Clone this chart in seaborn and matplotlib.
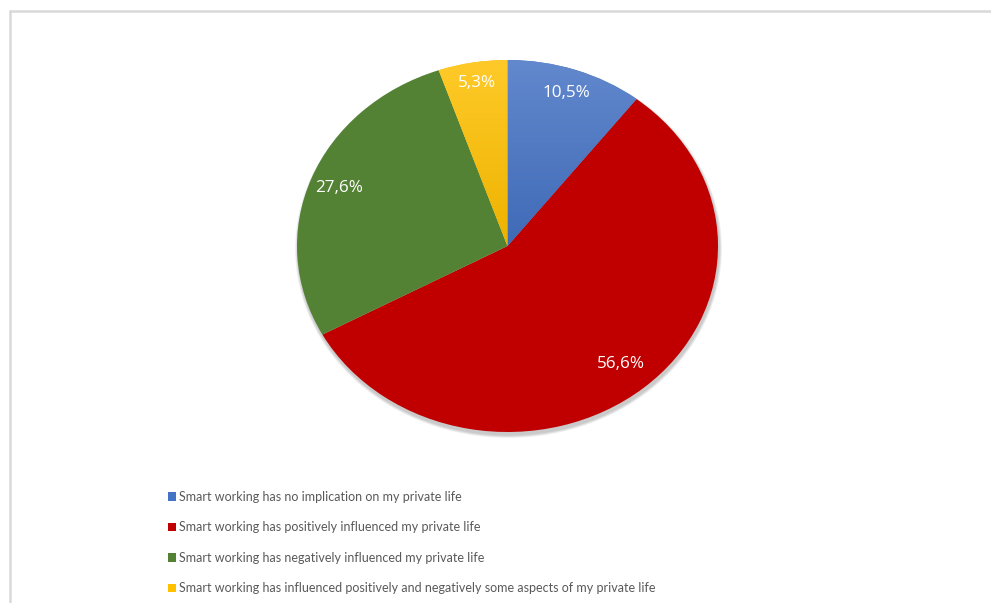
import matplotlib
matplotlib.use("Agg")
import matplotlib.pyplot as plt
from matplotlib.patches import Rectangle, Ellipse
from matplotlib.lines import Line2D
from matplotlib.colors import to_rgb
import numpy as np
import seaborn as sns

# Survey answers on how smart working affected private life
categories = [
    "Smart working has no implication on my private life",
    "Smart working has positively influenced my private life",
    "Smart working has negatively influenced my private life",
    "Smart working has influenced positively and negatively some aspects of my private life",
]
shares = [10.5, 56.6, 27.6, 5.3]
pct_labels = ["10,5%", "56,6%", "27,6%", "5,3%"]
colors = ["#4472C4", "#C00000", "#548235", "#FFC000"]
shaded = [True, False, False, True]   # wedges drawn with a soft vertical gradient

sns.set_theme(style="white")
plt.rcParams["font.family"] = ["Lato", "DejaVu Sans"]

W, H = 991, 603
fig = plt.figure(figsize=(W / 100, H / 100), dpi=100)
fig.patch.set_facecolor("white")

# Light frame along the top and left edge
fig.add_artist(Line2D([10 / W, 10 / W], [0, 1 - 11 / H], transform=fig.transFigure,
                      color="#D9D9D9", lw=1.8))
fig.add_artist(Line2D([10 / W, 1], [1 - 11 / H, 1 - 11 / H], transform=fig.transFigure,
                      color="#D9D9D9", lw=1.8))

# Pie occupies an elliptical area (wider than tall)
left, right, top, bottom = 297, 718, 60, 432
pw, ph = right - left, bottom - top
ax = fig.add_axes([left / W, 1 - bottom / H, pw / W, ph / H])

# Soft drop shadow under the pie
for k in range(5):
    grow = (k + 1) * 1.2
    ax.add_patch(Ellipse((1.0 * 2 / pw, -3.0 * 2 / ph),
                         2 + grow * 2 / pw, 2 + grow * 2 / ph,
                         facecolor="black", edgecolor="none", alpha=0.045,
                         zorder=0, clip_on=False))

wedges, _ = ax.pie(
    shares,
    colors=colors,
    startangle=90,
    counterclock=False,
    wedgeprops=dict(linewidth=0, zorder=1),
)
ax.set_aspect("auto")
ax.set_xlim(-1, 1)
ax.set_ylim(-1, 1)


def mix(c, other, t):
    a, b = np.array(to_rgb(c)), np.array(to_rgb(other))
    return a * (1 - t) + b * t


# Vertical gradient fill for the shaded wedges (lighter at the top)
ys = np.linspace(1, -1, 300)
for w, c, s in zip(wedges, colors, shaded):
    if not s:
        continue
    top_c = mix(c, "white", 0.16)
    bot_c = mix(c, "black", 0.07)
    t = np.clip((1 - ys) / 1.0, 0, 1)[:, None]
    img = (top_c * (1 - t) + bot_c * t)[:, None, :].repeat(2, axis=1)
    im = ax.imshow(img, extent=(-1, 1, -1, 1), aspect="auto", zorder=1.5,
                   interpolation="bilinear")
    im.set_clip_path(w)
ax.set_xlim(-1, 1)
ax.set_ylim(-1, 1)

# Percentage labels placed inside each wedge
dist = [0.87, 0.83, 0.86, 0.89]
for w, lab, d in zip(wedges, pct_labels, dist):
    ang = np.deg2rad((w.theta1 + w.theta2) / 2)
    ax.text(d * np.cos(ang), d * np.sin(ang), lab, ha="center", va="center",
            color="white", fontsize=12.3, zorder=3,
            family=["Open Sans", "DejaVu Sans"])

handles = [Rectangle((0, 0), 1, 1, facecolor=c, edgecolor="none") for c in colors]
leg = fig.legend(
    handles, categories,
    loc="upper left",
    bbox_to_anchor=(168 / W, 1 - 491 / H),
    frameon=False,
    fontsize=9.0,
    handlelength=0.66,
    handleheight=0.66,
    handletextpad=0.25,
    labelspacing=1.47,
    borderpad=0,
    borderaxespad=0,
)
for t in leg.get_texts():
    t.set_color("#595959")

fig.savefig("out.png", dpi=100, facecolor="white")
